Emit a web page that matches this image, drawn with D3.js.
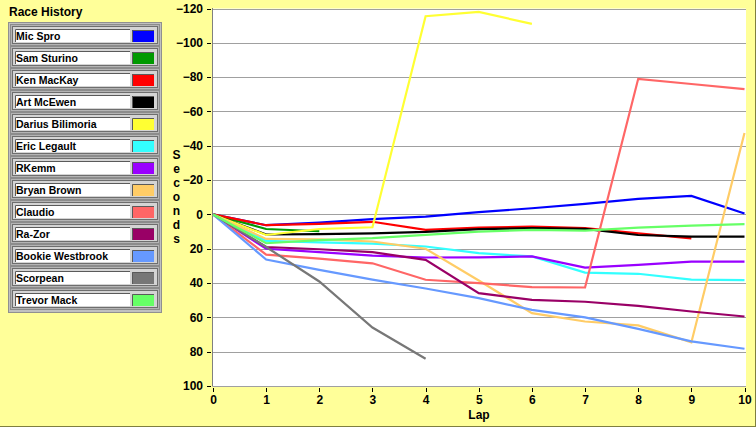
<!DOCTYPE html>
<html>
<head>
<meta charset="utf-8">
<script src="https://cdn.jsdelivr.net/npm/d3@7"></script>
<style>
    body { margin: 0; background: #FFFF99; }
    svg { display: block; }
    text { font-family: "Liberation Sans", Arial, sans-serif; font-weight: bold; fill: #000; }
</style>
</head>
<body>
<svg id="chart"></svg>
<script>
// Данные: номера кругов и отставание (секунды) по каждому гонщику
const laps = [0, 1, 2, 3, 4, 5, 6, 7, 8, 9, 10];
const y_ticks = [-120, -100, -80, -60, -40, -20, 0, 20, 40, 60, 80, 100];

const names = ["Mic Spro", "Sam Sturino", "Ken MacKay", "Art McEwen", "Darius Bilimoria",
    "Eric Legault", "RKemm", "Bryan Brown", "Claudio", "Ra-Zor", "Bookie Westbrook",
    "Scorpean", "Trevor Mack"];
const colors = ["#0000FF", "#009900", "#FF0000", "#000000", "#FFFF33", "#33FFFF", "#9900FF",
    "#FFCC66", "#FF6666", "#990066", "#6699FF", "#777777", "#66FF66"];

const mic_spro = [0, 6.3, 4.8, 2.7, 1.3, -1.3, -3.6, -6.1, -9, -10.8, -0.5];
const sam_sturino = [0, 8.5, 9.8];
const ken_mackay = [0, 6.3, 5.5, 4.3, 9, 7.7, 7.1, 8, 11, 14];
const art_mcewen = [0, 11.7, 11.5, 11, 10.2, 8.6, 8, 8.4, 12, 13, 13];
const darius_bilimoria = [0, 12, 8.5, 7.5, -115.5, -118, -111];
const eric_legault = [0, 15.4, 16.3, 17, 18.7, 22.6, 24.5, 33.9, 34.6, 38, 38.3];
const rkemm = [0, 20, 22, 24, 25.1, 25, 24.5, 31, 29.4, 27.5, 27.5];
const bryan_brown = [0, 14.3, 14.6, 15.8, 20, 38.5, 57.5, 62.4, 64.7, 74.6, -47.5];
const claudio = [0, 23.4, 25.8, 28.5, 38.1, 40, 42.4, 42.6, -79, -76, -73];
const ra_zor = [0, 19, 20.3, 22, 26.5, 45.9, 49.8, 50.9, 53.3, 56.6, 59.5];
const bookie_westbrook = [0, 26.3, 32.3, 38, 43.2, 48.8, 55.6, 60, 66.7, 74, 78.3];
const scorpean = [0, 19, 39.1, 65.9, 84.1];
const trevor_mack = [0, 16.8, 15, 13.8, 11.9, 10, 9, 9.4, 7.7, 6.5, 5.7];

const series = [mic_spro, sam_sturino, ken_mackay, art_mcewen, darius_bilimoria, eric_legault,
    rkemm, bryan_brown, claudio, ra_zor, bookie_westbrook, scorpean, trevor_mack];

const width = 756, height = 427;
const svg = d3.select("#chart").attr("width", width).attr("height", height);

// Фон и рамка окна
svg.append("rect").attr("width", width).attr("height", height).attr("fill", "#FFFF99");
svg.append("line").attr("x1", 0).attr("x2", width).attr("y1", 426.5).attr("y2", 426.5)
    .attr("stroke", "#7F7F3F");
svg.append("line").attr("x1", 755.5).attr("x2", 755.5).attr("y1", 0).attr("y2", height)
    .attr("stroke", "#7F7F3F");

const x = d3.scaleLinear().domain([0, 10]).range([213, 744.5]);
const y = d3.scaleLinear().domain([-120, 100]).range([8.5, 386]);

// Область графика
svg.append("rect")
    .attr("x", 213).attr("y", 8.5)
    .attr("width", 746 - 213).attr("height", 386 - 8.5)
    .attr("fill", "#FFFFFF");

// Сетка
svg.append("g").selectAll("line")
    .data(y_ticks)
    .join("line")
    .attr("x1", 213).attr("x2", 746)
    .attr("y1", d => Math.round(y(d)) + 0.5).attr("y2", d => Math.round(y(d)) + 0.5)
    .attr("stroke", "#A0A0A0");

// Оси
const y_axis = svg.append("g")
    .attr("transform", "translate(211,0)")
    .call(d3.axisLeft(y).tickValues(y_ticks).tickSize(4).tickPadding(4));
const x_axis = svg.append("g")
    .attr("transform", "translate(0,388)")
    .call(d3.axisBottom(x).tickValues(laps).tickSize(4).tickPadding(3));

[y_axis, x_axis].forEach(axis => {
    axis.select(".domain").remove();
    axis.selectAll("line").attr("stroke", "#000").attr("shape-rendering", "crispEdges");
    axis.selectAll("text").attr("font-size", 12).attr("font-family", null);
});

svg.append("line").attr("x1", 212.5).attr("x2", 212.5).attr("y1", 8).attr("y2", 386.5)
    .attr("stroke", "#808080");

// Линии гонщиков
const line = d3.line()
    .x((d, i) => x(laps[i]))
    .y(d => y(d));

svg.append("g").selectAll("path")
    .data(series)
    .join("path")
    .attr("d", d => line(d))
    .attr("fill", "none")
    .attr("stroke", (d, i) => colors[i])
    .attr("stroke-width", 2.2);

// Подписи осей
svg.append("text").attr("x", 479).attr("y", 419).attr("text-anchor", "middle")
    .attr("font-size", 12).text("Lap");
const label = svg.append("text").attr("text-anchor", "middle").attr("font-size", 12);
"Seconds".split("").forEach((ch, i) => {
    label.append("tspan").attr("x", 176.5).attr("y", 159 + i * 14).text(ch);
});

// Легенда
svg.append("text").attr("x", 9).attr("y", 15.5).attr("font-size", 12).text("Race History");

const legend = svg.append("g");
legend.append("rect")
    .attr("x", 8.5).attr("y", 22.5).attr("width", 153).attr("height", 290)
    .attr("fill", "#C0C0C0").attr("stroke", "#909090");

const item = legend.selectAll("g")
    .data(names)
    .join("g")
    .attr("transform", (d, i) => `translate(0,${24 + i * 22})`);

item.append("rect")
    .attr("x", 10.5).attr("y", 0.5).attr("width", 149).attr("height", 21)
    .attr("fill", "#B4B4B4").attr("stroke", "#8C8C8C");
item.append("rect")
    .attr("x", 12.5).attr("y", 2.5).attr("width", 145).attr("height", 17)
    .attr("fill", "#D4D4D4").attr("stroke", "#6E6E6E");
item.append("rect")
    .attr("x", 15).attr("y", 5).attr("width", 115).attr("height", 13)
    .attr("fill", "#FFFFFF");
item.append("path")
    .attr("d", "M15.5,18V5.5H130")
    .attr("fill", "none").attr("stroke", "#5A5A5A");
item.append("rect")
    .attr("x", 132).attr("y", 6).attr("width", 22).attr("height", 12)
    .attr("fill", (d, i) => colors[i]);
item.append("path")
    .attr("d", "M132.5,18V6.5H154")
    .attr("fill", "none").attr("stroke", "#5A5A5A");
item.append("text")
    .attr("x", 16).attr("y", 16)
    .attr("font-size", 10.5)
    .text(d => d);
</script>
</body>
</html>
